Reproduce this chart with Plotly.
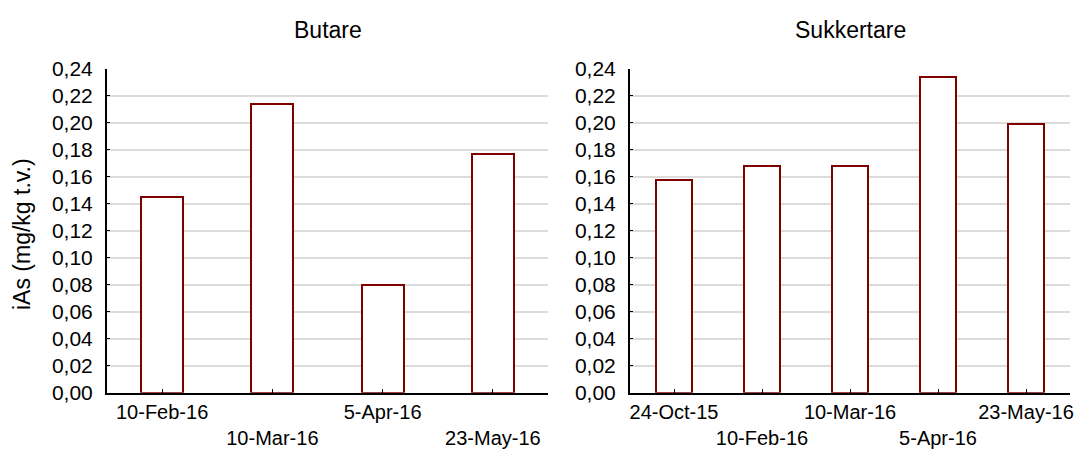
import plotly.graph_objects as go

# Inorganic arsenic concentration per sampling date
butare_dates = ["10-Feb-16", "10-Mar-16", "5-Apr-16", "23-May-16"]
butare_ias = [0.145, 0.214, 0.080, 0.177]

sukkertare_dates = ["24-Oct-15", "10-Feb-16", "10-Mar-16", "5-Apr-16", "23-May-16"]
sukkertare_ias = [0.158, 0.168, 0.168, 0.234, 0.199]

y_ticks = [0.00, 0.02, 0.04, 0.06, 0.08, 0.10, 0.12, 0.14, 0.16, 0.18, 0.20, 0.22, 0.24]

FONT = "Liberation Sans, Arial, sans-serif"
BAR_EDGE = "#800000"
W, H = 1075, 455


def staggered(labels):
    # every second label drops to a second row so neighbours do not collide
    return [lab if i % 2 == 0 else "<br>" + lab for i, lab in enumerate(labels)]


fig = go.Figure()

fig.add_trace(go.Bar(
    x=list(range(len(butare_dates))), y=butare_ias, width=0.38,
    marker=dict(color="white", line=dict(color=BAR_EDGE, width=2)),
    xaxis="x", yaxis="y", showlegend=False,
))
fig.add_trace(go.Bar(
    x=list(range(len(sukkertare_dates))), y=sukkertare_ias, width=0.40,
    marker=dict(color="white", line=dict(color=BAR_EDGE, width=2)),
    xaxis="x2", yaxis="y2", showlegend=False,
))

y_dom = [1 - 392.7 / H, 1 - 69 / H]

common_x = dict(
    showline=True, linecolor="black", linewidth=2,
    ticks="inside", ticklen=4, tickcolor="black", tickwidth=1,
    showgrid=False, zeroline=False, automargin=False, tickangle=0,
    ticklabeloverflow="allow",
    tickfont=dict(family=FONT, size=20, color="black"),
)
common_y = dict(
    range=[0, 0.24], tickvals=y_ticks, tickformat=".2f",
    showline=True, linecolor="black", linewidth=2,
    ticks="inside", ticklen=3, tickcolor="black",
    showgrid=True, gridcolor="#dcdcdc", gridwidth=2,
    zeroline=False, domain=y_dom, automargin=False,
    ticklabelstandoff=8,
    tickfont=dict(family=FONT, size=21, color="black"),
)

fig.update_layout(
    width=W, height=H,
    margin=dict(l=0, r=0, t=0, b=0),
    paper_bgcolor="white", plot_bgcolor="white",
    separators=", ",
    bargap=0,
    xaxis=dict(
        **common_x, domain=[107 / W, 548 / W],
        range=[-0.5, len(butare_dates) - 0.5],
        tickvals=list(range(len(butare_dates))),
        ticktext=staggered(butare_dates),
        anchor="y",
    ),
    yaxis=dict(**common_y, anchor="x"),
    xaxis2=dict(
        **common_x, domain=[630 / W, 1070 / W],
        range=[-0.5, len(sukkertare_dates) - 0.5],
        tickvals=list(range(len(sukkertare_dates))),
        ticktext=staggered(sukkertare_dates),
        anchor="y2",
    ),
    yaxis2=dict(**common_y, anchor="x2"),
    annotations=[
        dict(text="Butare", x=(107 + 548) / 2 / W, y=1 - 30 / H,
             xref="paper", yref="paper", showarrow=False,
             xanchor="center", yanchor="middle",
             font=dict(family=FONT, size=23, color="black")),
        dict(text="Sukkertare", x=(630 + 1070) / 2 / W, y=1 - 30 / H,
             xref="paper", yref="paper", showarrow=False,
             xanchor="center", yanchor="middle",
             font=dict(family=FONT, size=23, color="black")),
        dict(text="iAs (mg/kg t.v.)", x=22 / W, y=1 - 234 / H,
             xref="paper", yref="paper", showarrow=False, textangle=-90,
             xanchor="center", yanchor="middle",
             font=dict(family=FONT, size=23, color="black")),
    ],
)

fig.write_html("out.html")
